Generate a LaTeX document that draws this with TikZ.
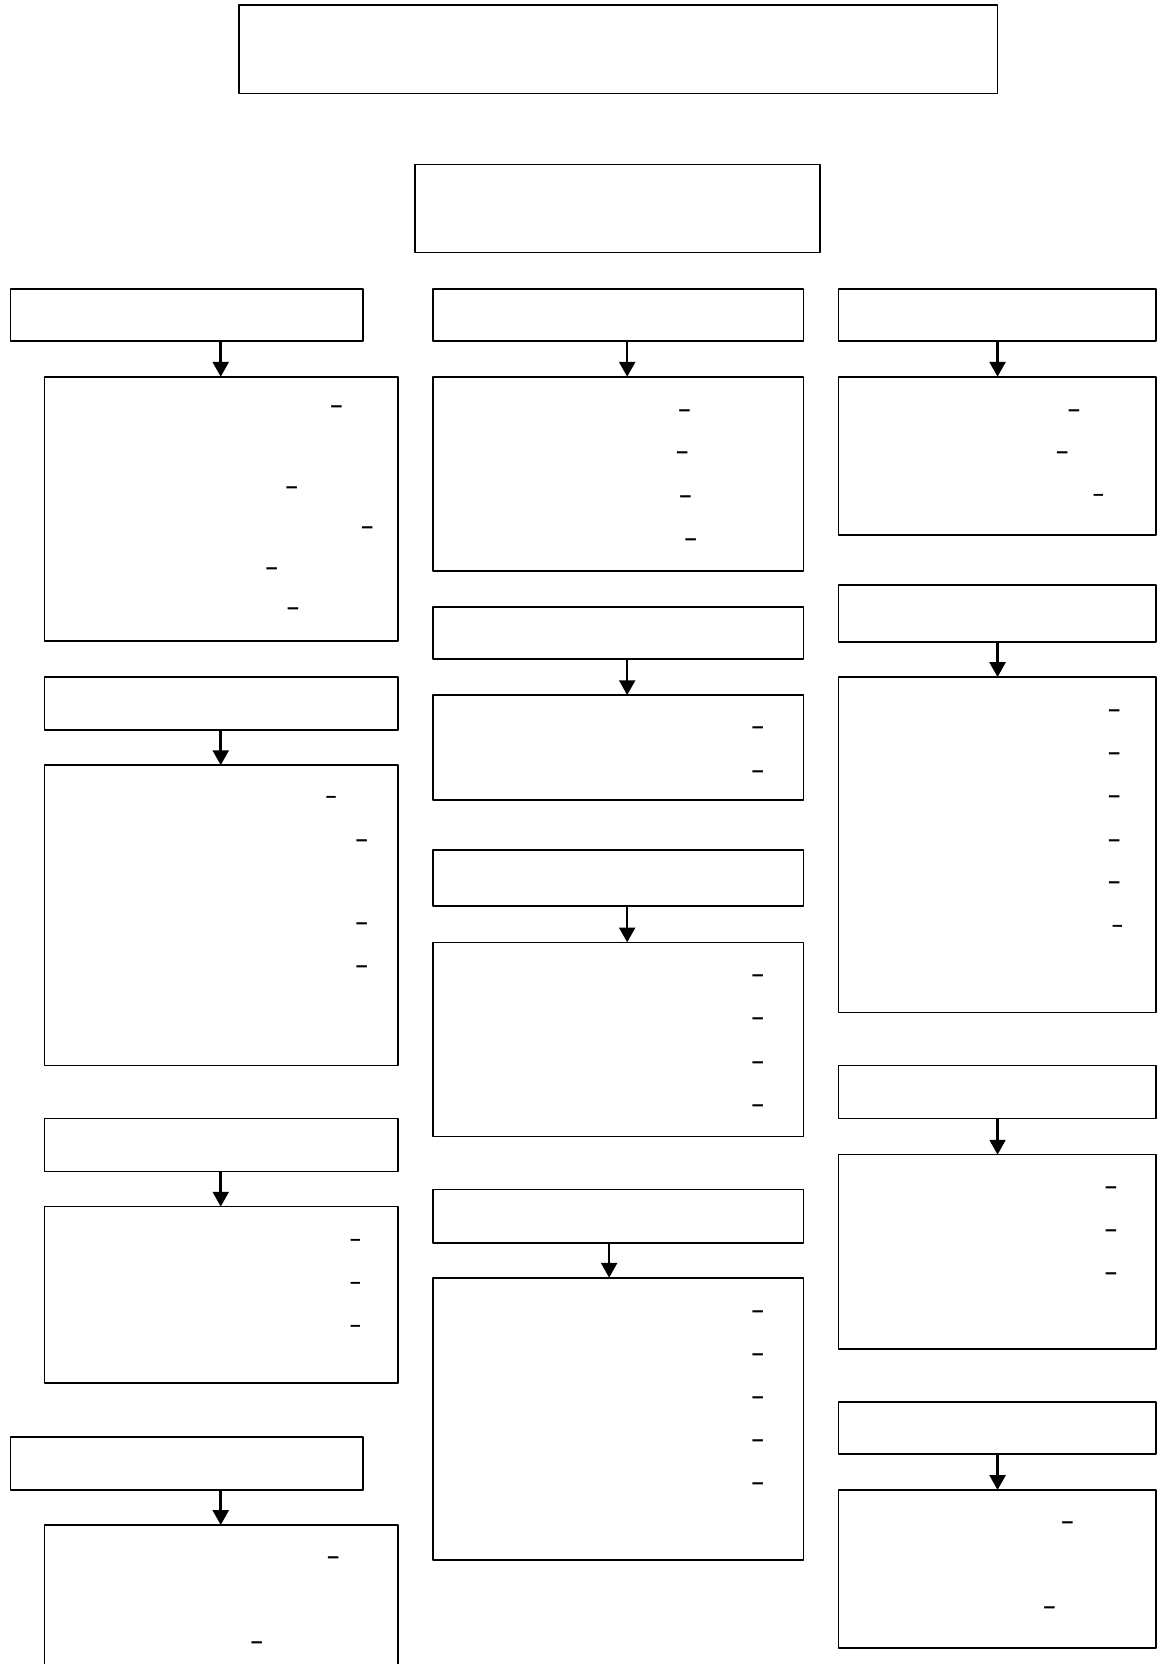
\documentclass[tikz,border=0pt]{standalone}
\usepackage{fontspec}
\setmainfont{Liberation Sans}
\usetikzlibrary{arrows.meta}
\tikzset{
  box/.style 2 args={draw, line width=0.8pt, rectangle, anchor=north west, inner sep=0pt, outer sep=0pt,
    minimum width={#1*0.5pt}, minimum height={#2*0.5pt}},
  dsh/.style={inner sep=0pt, anchor=base, yshift=-2.7pt, font=\bfseries},
  smalldsh/.style={inner sep=0pt, anchor=base, yshift=-2.3pt, font=\small\bfseries},
}
\begin{document}
\begin{tikzpicture}[x=0.5pt, y=-0.5pt, >={Triangle[width=7.5pt,length=7pt]}, line join=round]
	\useasboundingbox (0,0) rectangle (1091,1568);
	% top
	\node[box={715}{83}] (title) at (225,5) {};
	\node[box={382}{83}] (sub) at (391,155) {};
	
	% left column
	\node[box={332}{49}] (L1h) at (10,272) {};
	\node[box={333}{249}] (L1b) at (42,355) {};
	\node[box={333}{50}] (L2h) at (42,638) {};
	\node[box={333}{283}] (L2b) at (42,721) {};
	\node[box={333}{50}] (L3h) at (42,1054) {};
	\node[box={333}{166}] (L3b) at (42,1137) {};
	\node[box={332}{50}] (L4h) at (10,1354) {};
	\node[box={333}{200}] (L4b) at (42,1437) {};
	
	% middle column
	\node[box={349}{49}] (M1h) at (408,272) {};
	\node[box={349}{183}] (M1b) at (408,355) {};
	\node[box={349}{49}] (M2h) at (408,572) {};
	\node[box={349}{99}] (M2b) at (408,655) {};
	\node[box={349}{53}] (M3h) at (408,801) {};
	\node[box={349}{183}] (M3b) at (408,888) {};
	\node[box={349}{50}] (M4h) at (408,1121) {};
	\node[box={349}{266}] (M4b) at (408,1204) {};
	
	% right column
	\node[box={299}{49}] (R1h) at (790,272) {};
	\node[box={299}{149}] (R1b) at (790,355) {};
	\node[box={299}{54}] (R2h) at (790,551) {};
	\node[box={299}{316}] (R2b) at (790,638) {};
	\node[box={299}{50}] (R3h) at (790,1004) {};
	\node[box={299}{183}] (R3b) at (790,1088) {};
	\node[box={299}{49}] (R4h) at (790,1321) {};
	\node[box={299}{149}] (R4b) at (790,1404) {};
	
	% arrows
	\foreach \h/\b/\ax in {L1h/L1b/208, L2h/L2b/208, L3h/L3b/208, L4h/L4b/208,
		M1h/M1b/591, M2h/M2b/591, M3h/M3b/591, M4h/M4b/574,
		R1h/R1b/940, R2h/R2b/940, R3h/R3b/940, R4h/R4b/940}
	\draw[->, line width=1.2pt] (\h.south -| \ax,0) -- (\b.north -| \ax,0);
	
	% dashes
	\foreach \x/\y [count=\i] in {317/383, 275/460, 346/497, 256/536, 276/574,
		341/792, 341/870, 341/911, 314/1468, 242/1548,
		645/387, 643/427, 646/468, 651/509, 714/686, 714/727,
		714/919, 714/960, 714/1001, 714/1042,
		714/1236, 714/1277, 714/1317, 714/1358, 714/1398,
		1012/387, 1001/427, 1050/670, 1050/710, 1050/751, 1050/792, 1050/832,
		1047/1119, 1047/1160, 1047/1200, 1006/1435, 989/1515}
	\node[dsh] (d\i) at (\x,\y) {–};
	\foreach \x/\y [count=\i] in {312/752, 335/1169, 335/1210, 335/1250, 1035/467, 1053/873}
	\node[smalldsh] (s\i) at (\x,\y) {–};
\end{tikzpicture}
\end{document}
